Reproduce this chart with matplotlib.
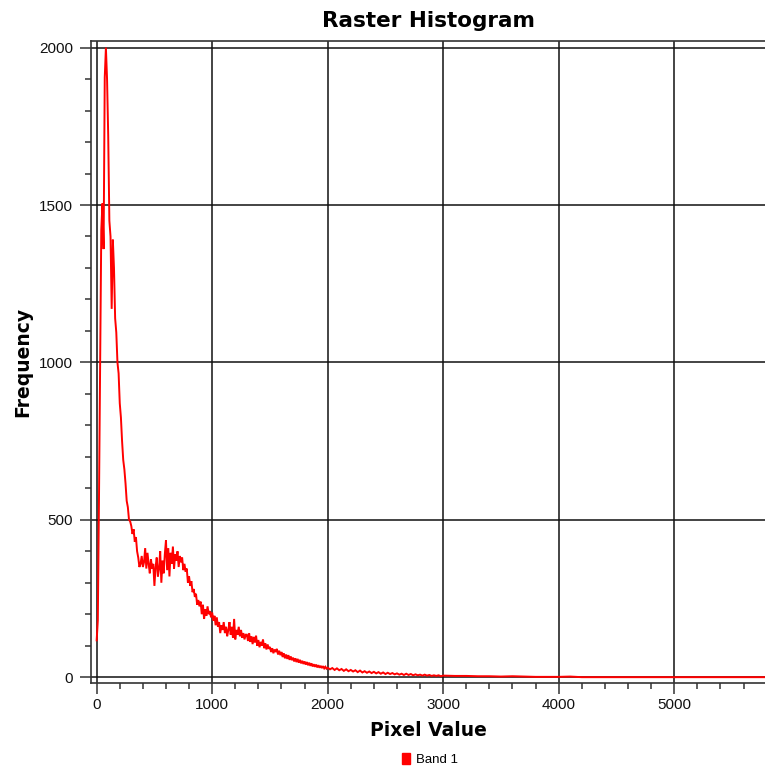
import numpy as np
import matplotlib
matplotlib.use('Agg')
import matplotlib.pyplot as plt
from matplotlib.patches import Patch
from matplotlib.ticker import MultipleLocator

# histogram counts, bins of width 10 from 0 to 290
freq_peak = [117, 180, 560, 1000, 1420, 1505, 1360, 1905, 2000, 1900,
             1720, 1450, 1400, 1170, 1390, 1300, 1140, 1095, 1000, 965,
             870, 825, 750, 690, 660, 615, 560, 540, 500, 495]

# bins of width 10 from 300 to 1990
freq_body = [480, 455, 470, 430, 445, 400, 380, 350, 360, 385,
             350, 365, 410, 345, 395, 360, 330, 375, 345, 360,
             290, 350, 380, 320, 345, 400, 300, 370, 330, 390,
             435, 340, 410, 320, 395, 360, 415, 345, 390, 370,
             400, 350, 385, 365, 380, 340, 360, 335, 345, 300,
             320, 290, 305, 270, 280, 255, 265, 230, 245, 225,
             240, 200, 230, 185, 215, 195, 225, 200, 210, 190,
             205, 180, 195, 165, 190, 160, 175, 140, 165, 150,
             175, 140, 160, 130, 150, 175, 135, 160, 125, 185,
             120, 150, 135, 160, 130, 150, 125, 140, 120, 135,
             135, 115, 140, 112, 130, 105, 128, 110, 132, 100,
             118, 95, 112, 100, 120, 92, 108, 88, 104, 90,
             96, 80, 92, 76, 88, 80, 90, 72, 84, 70,
             80, 64, 76, 60, 72, 58, 70, 55, 66, 54,
             62, 50, 60, 48, 58, 46, 55, 44, 52, 42,
             50, 40, 48, 38, 46, 36, 44, 34, 41, 33,
             40, 31, 38, 30, 36, 29, 35, 28, 33, 27]

# bins of width 20 from 2000 to 2980
freq_low = [30, 25, 29, 23, 28, 22, 26, 20, 25, 19,
            23, 18, 22, 16, 21, 15, 19, 14, 18, 13,
            17, 12, 16, 11, 15, 10, 14, 10, 13, 9,
            12, 8, 11, 7, 11, 7, 10, 6, 9, 6,
            8, 5, 8, 5, 7, 4, 6, 4, 6, 3]

# bins of width 100 from 3000 to 5800
freq_tail = [5, 4, 4, 3, 3, 2, 3, 2, 1, 1,
             1, 2, 0, 0, 0, 0, 0, 0, 0, 0,
             0, 0, 0, 0, 0, 0, 0, 0, 0]

x = np.concatenate([np.arange(0, 300, 10),
                    np.arange(300, 2000, 10),
                    np.arange(2000, 3000, 20),
                    np.arange(3000, 5801, 100)])
y = np.array(freq_peak + freq_body + freq_low + freq_tail)

fig = plt.figure(figsize=(7.65, 7.73), dpi=100)
ax = fig.add_axes([91 / 765, 1 - 683 / 773, 1 - 91 / 765, (683 - 41) / 773])

ax.plot(x, y, color='#ff0000', lw=1.4, solid_joinstyle='miter')

ax.set_xlim(-49, 5786)
ax.set_ylim(-18.5, 2021)
ax.xaxis.set_major_locator(MultipleLocator(1000))
ax.xaxis.set_minor_locator(MultipleLocator(200))
ax.yaxis.set_major_locator(MultipleLocator(500))
ax.yaxis.set_minor_locator(MultipleLocator(100))

ax.grid(True, which='major', color='#111111', lw=1.1)
ax.set_axisbelow(True)
ax.spines['right'].set_visible(False)
for s in ['left', 'top', 'bottom']:
    ax.spines[s].set_color('#333333')
    ax.spines[s].set_linewidth(1.2)

ax.tick_params(which='major', length=8, width=1.1, color='#333333')
ax.tick_params(which='minor', length=4, width=1.1, color='#333333')
ax.tick_params(axis='y', which='major', pad=5)
ax.tick_params(axis='x', which='major', pad=3)
for lab in ax.get_xticklabels() + ax.get_yticklabels():
    lab.set_family('Liberation Sans')
    lab.set_fontsize(11)
    lab.set_color('#111111')

ax.set_title('Raster Histogram', fontsize=15.5, fontweight='bold',
             family='DejaVu Sans', pad=10)
ax.set_xlabel('Pixel Value', fontsize=13.5, fontweight='bold',
              family='DejaVu Sans', labelpad=6)
ax.set_ylabel('Frequency', fontsize=13.5, fontweight='bold',
              family='DejaVu Sans', labelpad=5)

fig.legend(handles=[Patch(color='#ff0000', label='Band 1')], loc='center',
           bbox_to_anchor=(0.562, 0.018), frameon=False,
           handlelength=0.6, handleheight=0.9, handletextpad=0.4,
           prop={'family': 'Liberation Sans', 'size': 9.5})

fig.savefig('out.png', dpi=100)
